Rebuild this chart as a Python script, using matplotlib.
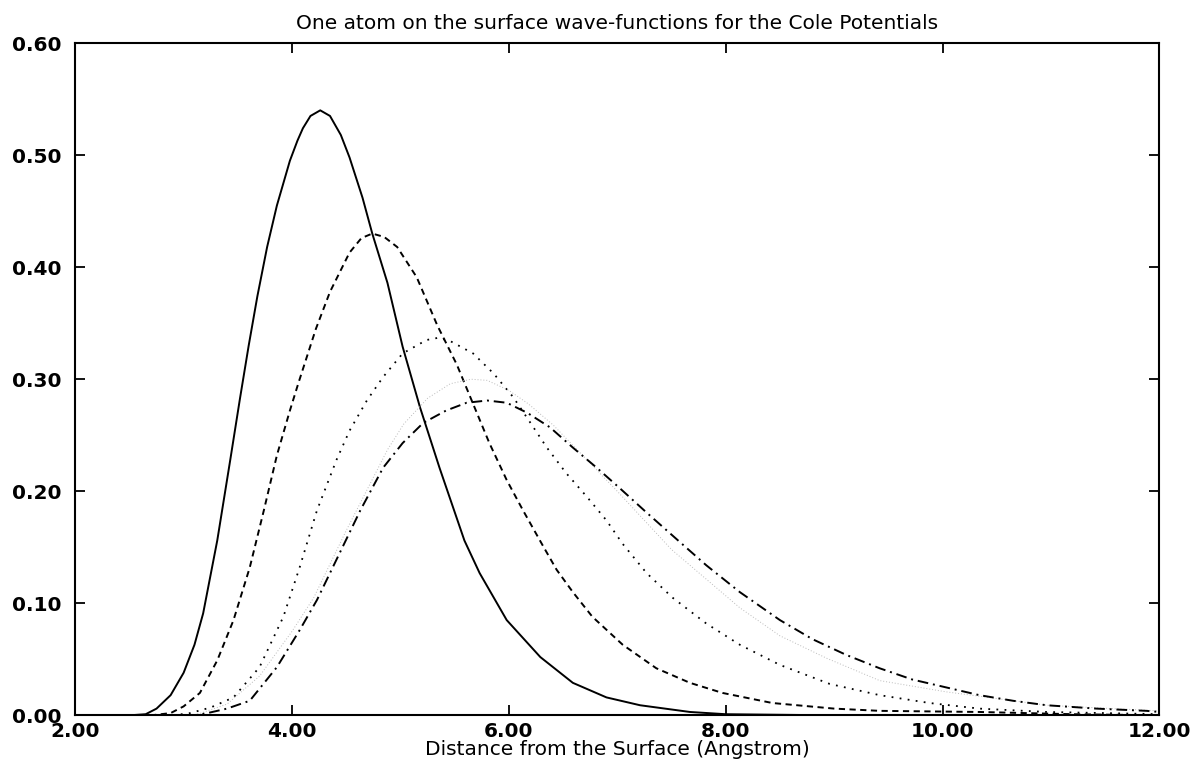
import matplotlib
matplotlib.use("Agg")
import matplotlib.pyplot as plt

plt.rcParams['font.family'] = ['DejaVu Sans']

# solid curve
x_solid = [2.0, 2.5, 2.65, 2.75, 2.88, 3.0, 3.1, 3.18, 3.31, 3.43, 3.52, 3.60, 3.68, 3.77,
           3.86, 3.98, 4.05, 4.10, 4.17, 4.26, 4.35, 4.45, 4.53, 4.65, 4.74, 4.88, 5.02,
           5.18, 5.36, 5.59, 5.73, 5.98, 6.29, 6.59, 6.90, 7.21, 7.67, 8.0, 9.0, 10.0, 12.0]
y_solid = [0.0, 0.0, 0.001, 0.006, 0.018, 0.038, 0.063, 0.091, 0.156, 0.228, 0.283, 0.330,
           0.374, 0.418, 0.455, 0.495, 0.513, 0.524, 0.535, 0.54, 0.535, 0.518, 0.498, 0.462,
           0.43, 0.386, 0.329, 0.275, 0.221, 0.156, 0.127, 0.085, 0.052, 0.029, 0.016, 0.009,
           0.003, 0.001, 0.0, 0.0, 0.0]

# short dashes
x_dash = [2.0, 2.7, 2.88, 3.0, 3.15, 3.31, 3.46, 3.61, 3.74, 3.86, 3.98, 4.06, 4.22, 4.35,
          4.53, 4.64, 4.74, 4.85, 4.97, 5.15, 5.34, 5.52, 5.67, 5.82, 5.98, 6.13, 6.31, 6.44,
          6.59, 6.77, 7.05, 7.36, 7.67, 7.97, 8.43, 9.0, 9.42, 10.34, 11.2, 12.0]
y_dash = [0.0, 0.0, 0.002, 0.008, 0.02, 0.049, 0.085, 0.132, 0.183, 0.232, 0.272, 0.297,
          0.345, 0.378, 0.413, 0.426, 0.43, 0.427, 0.418, 0.391, 0.348, 0.313, 0.278, 0.243,
          0.21, 0.183, 0.152, 0.130, 0.110, 0.088, 0.063, 0.042, 0.029, 0.02, 0.011, 0.006,
          0.004, 0.003, 0.001, 0.0]

# coarse dots
x_dot = [2.0, 2.9, 3.06, 3.25, 3.46, 3.7, 3.92, 4.07, 4.23, 4.41, 4.53, 4.69, 4.84, 5.02,
         5.24, 5.35, 5.46, 5.67, 5.86, 6.04, 6.22, 6.35, 6.53, 6.72, 6.9, 7.05, 7.27, 7.51,
         7.82, 8.13, 8.5, 8.96, 9.42, 9.88, 10.34, 10.96, 11.5, 12.0]
y_dot = [0.0, 0.0, 0.002, 0.007, 0.016, 0.043, 0.088, 0.132, 0.183, 0.228, 0.254, 0.281,
         0.302, 0.323, 0.335, 0.337, 0.334, 0.323, 0.305, 0.284, 0.258, 0.239, 0.216, 0.195,
         0.174, 0.153, 0.127, 0.105, 0.082, 0.063, 0.045, 0.028, 0.018, 0.011, 0.006, 0.003,
         0.002, 0.001]

# faint fine dots
x_fine = [2.0, 3.1, 3.4, 3.7, 4.0, 4.2, 4.5, 4.88, 5.03, 5.25, 5.46, 5.65, 5.8, 6.0, 6.18,
          6.41, 6.7, 7.0, 7.5, 8.13, 8.5, 8.93, 9.42, 10.03, 10.5, 10.96, 11.57, 12.0]
y_fine = [0.0, 0.0, 0.01, 0.035, 0.075, 0.105, 0.165, 0.237, 0.26, 0.283, 0.296, 0.30, 0.299,
          0.29, 0.278, 0.259, 0.23, 0.2, 0.148, 0.096, 0.071, 0.051, 0.031, 0.021, 0.015,
          0.009, 0.006, 0.004]

# long dash - dot
x_dd = [2.0, 3.1, 3.22, 3.4, 3.61, 3.86, 4.07, 4.23, 4.44, 4.63, 4.84, 5.02, 5.21, 5.42,
        5.61, 5.8, 5.98, 6.17, 6.38, 6.59, 6.81, 7.02, 7.27, 7.55, 7.82, 8.13, 8.5, 8.8,
        9.11, 9.42, 9.72, 10.03, 10.34, 10.65, 10.96, 11.42, 11.88, 12.0]
y_dd = [0.0, 0.0, 0.002, 0.006, 0.013, 0.043, 0.076, 0.103, 0.145, 0.183, 0.221, 0.243,
        0.261, 0.272, 0.279, 0.281, 0.279, 0.27, 0.257, 0.239, 0.221, 0.203, 0.181, 0.157,
        0.134, 0.110, 0.085, 0.068, 0.054, 0.042, 0.032, 0.025, 0.018, 0.013, 0.009, 0.006,
        0.004, 0.003]

xticks = [2, 4, 6, 8, 10, 12]
yticks = [0.0, 0.1, 0.2, 0.3, 0.4, 0.5, 0.6]

fig = plt.figure(figsize=(11.94, 7.7), dpi=100)
ax = fig.add_axes([0.063, 0.071, 0.908, 0.873])

ax.plot(x_solid, y_solid, color="black", lw=1.4)
ax.plot(x_dash, y_dash, color="black", lw=1.4, dashes=(3.2, 2.3))
ax.plot(x_dot, y_dot, color="black", lw=1.3, dashes=(1, 3.5))
ax.plot(x_fine, y_fine, color="#bbbbbb", lw=0.7, dashes=(1, 2))
ax.plot(x_dd, y_dd, color="black", lw=1.4, dashes=(5.5, 2.5, 1, 2.5))

ax.set_xlim(2, 12)
ax.set_ylim(0, 0.6)
ax.set_xticks(xticks)
ax.set_yticks(yticks)
ax.set_xticklabels([f"{v:.2f}" for v in xticks])
ax.set_yticklabels([f"{v:.2f}" for v in yticks])
ax.tick_params(direction="in", length=7, width=1.3, top=True, right=True,
               labelsize=14.5)
ax.tick_params(axis="x", pad=5)
ax.tick_params(axis="y", pad=10)
for lab in ax.get_xticklabels() + ax.get_yticklabels():
    lab.set_fontweight("bold")
for s in ax.spines.values():
    s.set_linewidth(1.5)

ax.set_title("One atom on the surface wave-functions for the Cole Potentials",
             fontsize=14.5, pad=10)
ax.set_xlabel("Distance from the Surface (Angstrom)", fontsize=14.5, labelpad=-1)

fig.savefig("out.png", dpi=100)
